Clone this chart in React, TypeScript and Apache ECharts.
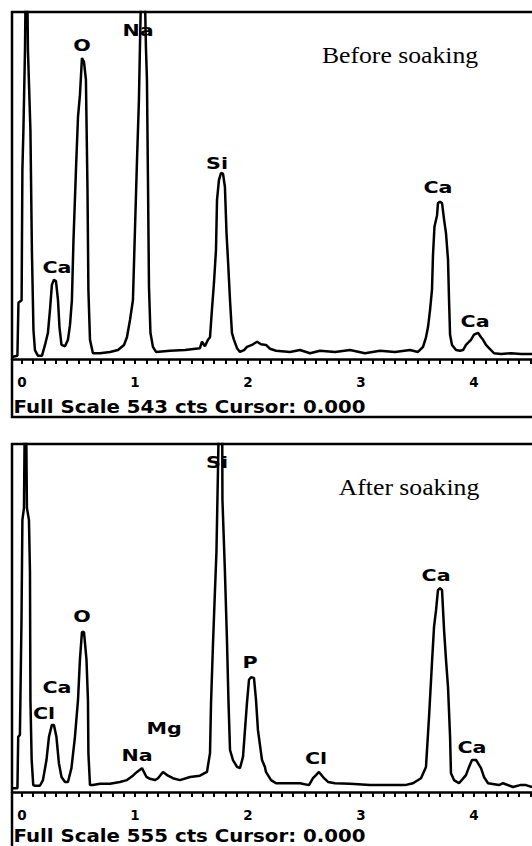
import React, { useEffect, useRef } from 'react';
import * as echarts from 'echarts';

// Energy axis (keV) and tick lists
const KEV_MIN = -0.088;
const KEV_MAX = 4.513;
const majorTickLabels = [0, 1, 2, 3, 4];
const minorTicks = [
  0, 0.1, 0.2, 0.3, 0.4, 0.5, 0.6, 0.7, 0.8, 0.9,
  1, 1.1, 1.2, 1.3, 1.4, 1.5, 1.6, 1.7, 1.8, 1.9,
  2, 2.1, 2.2, 2.3, 2.4, 2.5, 2.6, 2.7, 2.8, 2.9,
  3, 3.1, 3.2, 3.3, 3.4, 3.5, 3.6, 3.7, 3.8, 3.9,
  4, 4.1, 4.2, 4.3, 4.4, 4.5,
];

const fullScaleBefore = 543;
const fullScaleAfter = 555;

const beforeSpectrum: [number, number][] = [
  [-0.088, 3], [-0.040, 5], [-0.031, 88], [-0.003, 92], [0.004, 296], [0.013, 358], [0.027, 484], [0.040, 700], [0.053, 484], [0.075, 358],
  [0.088, 170], [0.102, 45], [0.115, 14], [0.142, 5], [0.177, 5], [0.204, 22], [0.230, 41], [0.248, 77], [0.265, 116], [0.283, 124],
  [0.301, 122], [0.319, 92], [0.332, 50], [0.350, 22], [0.381, 20], [0.407, 30], [0.425, 53], [0.442, 92], [0.456, 186], [0.478, 296],
  [0.496, 379], [0.513, 413], [0.531, 471], [0.549, 465], [0.566, 437], [0.580, 264], [0.588, 108], [0.602, 30], [0.628, 9], [0.690, 9],
  [0.779, 11], [0.850, 14], [0.903, 22], [0.929, 34], [0.956, 61], [0.982, 92], [1.000, 202], [1.018, 311], [1.035, 405], [1.044, 488],
  [1.071, 720], [1.097, 488], [1.106, 437], [1.115, 280], [1.124, 113], [1.137, 41], [1.159, 19], [1.186, 11], [1.310, 13], [1.442, 14],
  [1.575, 17], [1.593, 27], [1.619, 20], [1.646, 30], [1.664, 34], [1.681, 77], [1.699, 119], [1.717, 171], [1.726, 249], [1.743, 280],
  [1.761, 291], [1.779, 290], [1.796, 269], [1.810, 197], [1.823, 155], [1.841, 92], [1.858, 41], [1.876, 30], [1.903, 17], [1.929, 11],
  [1.965, 14], [1.991, 19], [2.035, 22], [2.080, 27], [2.115, 23], [2.159, 22], [2.195, 16], [2.248, 13], [2.372, 11], [2.460, 14],
  [2.549, 9], [2.637, 13], [2.770, 11], [2.903, 14], [3.035, 9], [3.168, 13], [3.301, 11], [3.434, 14], [3.504, 11], [3.549, 19],
  [3.575, 34], [3.593, 50], [3.611, 77], [3.628, 108], [3.637, 163], [3.650, 207], [3.673, 225], [3.681, 244], [3.699, 246], [3.717, 244],
  [3.735, 218], [3.752, 197], [3.770, 155], [3.779, 92], [3.788, 38], [3.805, 22], [3.841, 14], [3.876, 13], [3.903, 14], [3.929, 22],
  [3.956, 27], [3.973, 30], [4.000, 38], [4.035, 41], [4.062, 34], [4.080, 30], [4.106, 22], [4.133, 17], [4.177, 9], [4.239, 8],
  [4.327, 9], [4.416, 8], [4.513, 8],
];

const afterSpectrum: [number, number][] = [
  [-0.088, 6], [-0.040, 6], [-0.033, 88], [-0.018, 91], [-0.004, 274], [0.004, 434], [0.018, 453], [0.031, 720], [0.044, 453], [0.062, 434],
  [0.071, 351], [0.075, 147], [0.086, 51], [0.100, 11], [0.115, 10], [0.159, 10], [0.186, 19], [0.217, 51], [0.239, 88], [0.265, 107],
  [0.283, 107], [0.305, 88], [0.327, 46], [0.350, 24], [0.381, 16], [0.407, 16], [0.438, 38], [0.469, 88], [0.496, 147], [0.513, 211],
  [0.531, 255], [0.549, 255], [0.571, 211], [0.584, 147], [0.588, 62], [0.602, 11], [0.628, 11], [0.690, 13], [0.779, 13], [0.867, 16],
  [0.929, 19], [0.982, 26], [1.018, 32], [1.062, 38], [1.102, 24], [1.133, 21], [1.177, 19], [1.204, 22], [1.248, 32], [1.292, 26],
  [1.336, 22], [1.398, 19], [1.487, 24], [1.575, 26], [1.637, 32], [1.664, 62], [1.673, 142], [1.690, 234], [1.708, 322], [1.721, 383],
  [1.735, 518], [1.752, 700], [1.770, 700], [1.774, 466], [1.796, 351], [1.814, 242], [1.827, 147], [1.841, 67], [1.867, 51], [1.903, 40],
  [1.929, 38], [1.956, 56], [1.991, 142], [2.009, 179], [2.027, 183], [2.053, 182], [2.071, 147], [2.088, 99], [2.124, 51], [2.150, 40],
  [2.159, 32], [2.204, 19], [2.248, 14], [2.336, 14], [2.460, 14], [2.540, 11], [2.575, 22], [2.602, 27], [2.628, 32], [2.673, 22],
  [2.708, 16], [2.770, 14], [2.903, 13], [3.080, 11], [3.257, 11], [3.389, 11], [3.460, 14], [3.531, 22], [3.575, 40], [3.602, 120],
  [3.628, 206], [3.646, 263], [3.664, 290], [3.681, 322], [3.699, 325], [3.717, 322], [3.735, 258], [3.752, 211], [3.770, 167], [3.788, 88],
  [3.796, 30], [3.823, 19], [3.867, 14], [3.929, 27], [3.956, 40], [3.982, 51], [4.018, 51], [4.062, 38], [4.088, 24], [4.124, 14],
  [4.221, 11], [4.257, 14], [4.345, 8], [4.407, 11], [4.460, 11], [4.513, 8],
];

// Element labels: [text, keV, counts] (label centre)
const beforeLabels: [string, number, number][] = [
  ['Na', 1.027, 515],
  ['O', 0.531, 491],
  ['Ca', 0.310, 144],
  ['Si', 1.726, 307],
  ['Ca', 3.681, 268],
  ['Ca', 4.009, 59],
];
const afterLabels: [string, number, number][] = [
  ['Si', 1.726, 526],
  ['Ca', 3.664, 346],
  ['O', 0.531, 281],
  ['Ca', 0.310, 167],
  ['Cl', 0.195, 126],
  ['Mg', 1.257, 102],
  ['Na', 1.018, 59],
  ['P', 2.018, 207],
  ['Cl', 2.602, 54],
  ['Ca', 3.982, 72],
];

const panelTitles = ['Before soaking', 'After soaking'];

const SANS = 'DejaVu Sans';
const SERIF = 'Liberation Serif';

export default function App() {
  const ref = useRef<HTMLDivElement>(null);

  useEffect(() => {
    if (!ref.current) return;
    const chart = echarts.init(ref.current, null, { renderer: 'svg' });

    const grids = [
      { left: 12, top: 12, width: 520, height: 347 },
      { left: 12, top: 444, width: 520, height: 348 },
    ];

    const xAxes = [0, 1].map((i) => ({
      type: 'value',
      gridIndex: i,
      min: KEV_MIN,
      max: KEV_MAX,
      axisLine: { show: true, onZero: false, lineStyle: { color: '#000', width: 2.5 } },
      axisTick: {
        show: true,
        customValues: minorTicks,
        length: 5,
        inside: false,
        lineStyle: { color: '#000', width: 2 },
      },
      axisLabel: {
        show: true,
        customValues: majorTickLabels,
        color: '#000',
        fontFamily: SANS,
        fontWeight: 'bold',
        fontSize: 13.5,
        margin: 16,
      },
      splitLine: { show: false },
    }));

    const yAxes = [
      { type: 'value', gridIndex: 0, min: 0, max: fullScaleBefore, show: false },
      { type: 'value', gridIndex: 1, min: 0, max: fullScaleAfter, show: false },
    ];

    const series = [beforeSpectrum, afterSpectrum].map((d, i) => ({
      type: 'line',
      xAxisIndex: i,
      yAxisIndex: i,
      data: d,
      symbol: 'none',
      showSymbol: false,
      clip: true,
      lineStyle: { color: '#000', width: 2.5 },
      z: 2,
    }));

    chart.setOption({
      animation: false,
      backgroundColor: '#fff',
      grid: grids,
      xAxis: xAxes,
      yAxis: yAxes,
      series,
    });

    const graphics: any[] = [
      {
        type: 'rect',
        shape: { x: 12, y: 12, width: 540, height: 405 },
        style: { fill: 'none', stroke: '#000', lineWidth: 2.5 },
        z: 5,
      },
      {
        type: 'rect',
        shape: { x: 12, y: 444, width: 540, height: 420 },
        style: { fill: 'none', stroke: '#000', lineWidth: 2.5 },
        z: 5,
      },
      {
        type: 'text',
        x: 400,
        y: 55,
        scaleX: 1.07,
        style: { text: panelTitles[0], fill: '#000', fontFamily: SERIF, fontSize: 24, align: 'center', verticalAlign: 'middle' },
        z: 10,
      },
      {
        type: 'text',
        x: 409,
        y: 487,
        scaleX: 1.07,
        style: { text: panelTitles[1], fill: '#000', fontFamily: SERIF, fontSize: 24, align: 'center', verticalAlign: 'middle' },
        z: 10,
      },
      {
        type: 'text',
        x: 13.5,
        y: 407,
        scaleX: 1.13,
        style: { text: `Full Scale ${fullScaleBefore} cts Cursor: 0.000`, fill: '#000', fontFamily: SANS, fontWeight: 'bold', fontSize: 17.5, align: 'left', verticalAlign: 'middle' },
        z: 10,
      },
      {
        type: 'text',
        x: 13.5,
        y: 836,
        scaleX: 1.13,
        style: { text: `Full Scale ${fullScaleAfter} cts Cursor: 0.000`, fill: '#000', fontFamily: SANS, fontWeight: 'bold', fontSize: 17.5, align: 'left', verticalAlign: 'middle' },
        z: 10,
      },
    ];

    [beforeLabels, afterLabels].forEach((labels, gi) => {
      labels.forEach(([t, k, c]) => {
        const p = chart.convertToPixel({ gridIndex: gi }, [k, c]) as number[];
        graphics.push({
          type: 'text',
          x: p[0],
          y: p[1],
          scaleX: 1.25,
          style: { text: t, fill: '#000', fontFamily: SANS, fontWeight: 'bold', fontSize: 16.5, align: 'center', verticalAlign: 'middle' },
          z: 10,
        });
      });
    });

    chart.setOption({ graphic: graphics });

    return () => {
      chart.dispose();
    };
  }, []);

  return (
    <div
      ref={ref}
      style={{ position: 'absolute', left: 0, top: 0, width: 532, height: 846, background: '#fff' }}
    />
  );
}
